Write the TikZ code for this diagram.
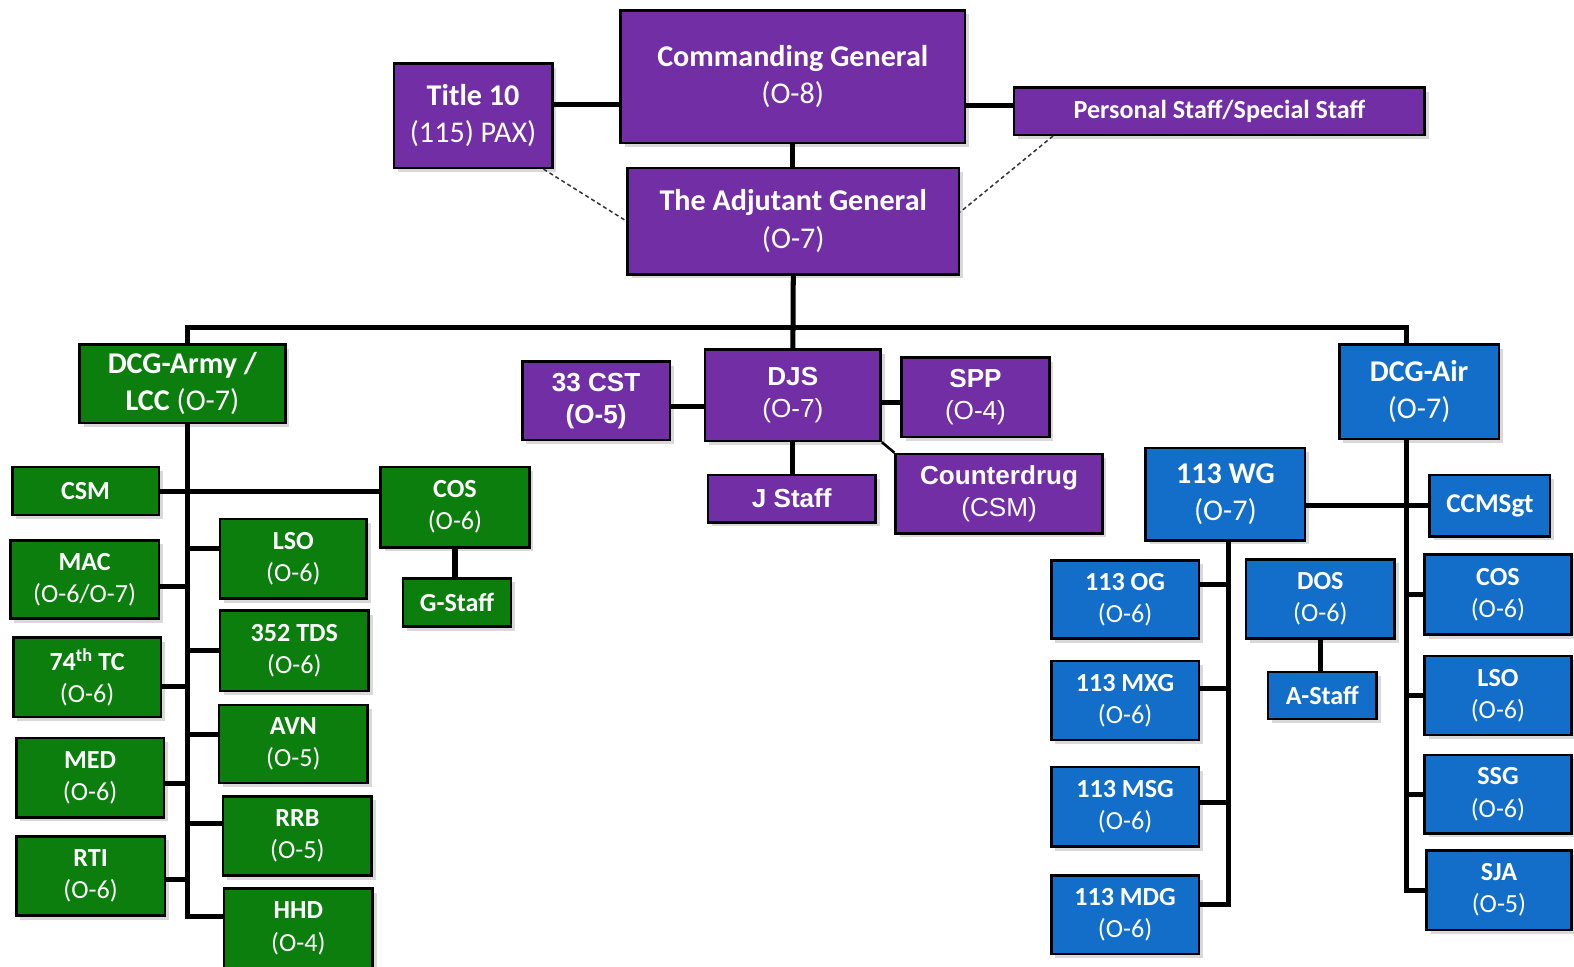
\documentclass[tikz,border=0pt]{standalone}
\usepackage{fontspec}
\setmainfont{Carlito}
\newfontfamily\arialfont{Liberation Sans}
\usetikzlibrary{shadows}
\definecolor{cgpurple}{RGB}{114,46,164}
\definecolor{armygreen}{RGB}{12,126,14}
\definecolor{airblue}{RGB}{18,110,200}
\tikzset{
  box/.style={draw=black, line width=2.5pt, text=white, align=center, inner sep=0pt, anchor=north west,
    drop shadow={shadow xshift=4pt, shadow yshift=-4pt, opacity=0.15, fill=black},
    font=\fontsize{26}{32}\selectfont},
  bigbox/.style={font=\fontsize{30}{37}\selectfont},
  arialbox/.style={font=\arialfont\fontsize{26}{32}\selectfont},
  pbox/.style={box, fill=cgpurple},
  gbox/.style={box, fill=armygreen},
  bbox/.style={box, fill=airblue},
  link/.style={line width=5pt, black},
  dotlink/.style={line width=1.5pt, dash pattern=on 4pt off 3pt, black!80}
}
\begin{document}
\begin{tikzpicture}[x=1pt,y=-1pt]
	\useasboundingbox (0,0) rectangle (1568,963);
	% command group
	\node [pbox, bigbox, minimum width=343, minimum height=132] (cg) at (617,9) {\textbf{Commanding General}\\(O-8)};
	\node [pbox, bigbox, minimum width=158, minimum height=104] (title) at (391,62) {\textbf{Title 10}\\(115) PAX)};
	\node [pbox, minimum width=409, minimum height=47] (ps) at (1009,86) {\textbf{Personal Staff/Special Staff}};
	\node [pbox, bigbox, minimum width=330, minimum height=106] (tag) at (624,166) {\textbf{The Adjutant General}\\(O-7)};
	\draw [link] ([yshift=11pt]title.east) -- ([yshift=11pt]title.east -| cg.west);
	\draw [link] ([yshift=6pt]ps.west -| cg.east) -- ([yshift=6pt]ps.west);
	\draw [link] (cg.south) -- (cg.south |- tag.north);
	\draw [dotlink] ([xshift=-10pt]title.south east) -- (tag.west);
	\draw [dotlink] ([xshift=40pt]ps.south west) -- ([yshift=9pt]tag.east);
	% joint staff
	\node [pbox, arialbox, minimum width=147, minimum height=78] (cst) at (519,359) {\textbf{33 CST}\\\textbf{(O-5)}};
	\node [pbox, arialbox, minimum width=175, minimum height=91] (djs) at (701,347) {\textbf{DJS}\\(O-7)};
	\node [pbox, arialbox, minimum width=147, minimum height=79] (spp) at (897,355) {\textbf{SPP}\\(O-4)};
	\node [pbox, arialbox, minimum width=167, minimum height=47] (jstaff) at (704,472) {\textbf{J Staff}};
	\node [pbox, arialbox, minimum width=206, minimum height=79] (cd) at (891,451) {\textbf{Counterdrug}\\(CSM)};
	\draw [link] ([yshift=-6pt]cst.east) -- ([yshift=-6pt]cst.east -| djs.west);
	\draw [link] ([yshift=-5pt]spp.west -| djs.east) -- ([yshift=-5pt]spp.west);
	\draw [link] (djs.south) -- (djs.south |- jstaff.north);
	\draw [line width=2.5pt] (djs.south east) -- (cd.north west);
	% bus
	\coordinate (bus) at (790,326);
	\coordinate (armyspine) at (187,0);
	\coordinate (airspine) at (1401,0);
	\coordinate (wgspine) at (1224,0);
	\node [gbox, bigbox, minimum width=205, minimum height=78] (army) at (78,342) {\textbf{DCG-Army /}\\\textbf{LCC} (O-7)};
	\node [bbox, bigbox, minimum width=159, minimum height=94] (air) at (1333,342) {\textbf{DCG-Air}\\(O-7)};
	\draw [link] (tag.south) -- (bus);
	\draw [link] (bus) -- (djs.north);
	\draw [link] (armyspine |- army.north) |- (bus) -| (airspine |- air.north);
	% army
	\node [gbox, minimum width=146, minimum height=48] (csm) at (11,464) {\textbf{CSM}};
	\node [gbox, minimum width=148, minimum height=80] (cos) at (378,464) {\textbf{COS}\\(O-6)};
	\node [gbox, minimum width=108, minimum height=48] (gstaff) at (400,575) {\textbf{G-Staff}};
	\node [gbox, minimum width=148, minimum height=78] (mac) at (9,537) {\textbf{MAC}\\(O-6/O-7)};
	\node [gbox, minimum width=147, minimum height=79] (tc) at (12,634) {\textbf{74\textsuperscript{th} TC}\\(O-6)};
	\node [gbox, minimum width=147, minimum height=79] (med) at (15,734) {\textbf{MED}\\(O-6)};
	\node [gbox, minimum width=148, minimum height=79] (rti) at (15,832) {\textbf{RTI}\\(O-6)};
	\node [gbox, minimum width=146, minimum height=79] (lso) at (218,516) {\textbf{LSO}\\(O-6)};
	\node [gbox, minimum width=148, minimum height=80] (tds) at (218,607) {\textbf{352 TDS}\\(O-6)};
	\node [gbox, minimum width=148, minimum height=78] (avn) at (217,701) {\textbf{AVN}\\(O-5)};
	\node [gbox, minimum width=148, minimum height=79] (rrb) at (221,792) {\textbf{RRB}\\(O-5)};
	\node [gbox, minimum width=148, minimum height=79] (hhd) at (222,884) {\textbf{HHD}\\(O-4)};
	\draw [link] (armyspine |- army.south) |- ([yshift=12pt]hhd.west);
	\draw [link] (csm.east) -- (csm.east -| cos.west);
	\draw [link] (cos.south) -- (cos.south |- gstaff.north);
	\draw [link] ([yshift=-7pt]mac.east) -- ([yshift=-7pt]mac.east -| armyspine);
	\draw [link] ([yshift=-9pt]tc.east) -- ([yshift=-9pt]tc.east -| armyspine);
	\draw [link] ([yshift=-6pt]med.east) -- ([yshift=-6pt]med.east -| armyspine);
	\draw [link] ([yshift=-3pt]rti.east) -- ([yshift=-3pt]rti.east -| armyspine);
	\draw [link] ([yshift=10pt]lso.west -| armyspine) -- ([yshift=10pt]lso.west);
	\draw [link] (tds.west -| armyspine) -- (tds.west);
	\draw [link] ([yshift=10pt]avn.west -| armyspine) -- ([yshift=10pt]avn.west);
	\draw [link] ([yshift=12pt]rrb.west -| armyspine) -- ([yshift=12pt]rrb.west);
	% air
	\node [bbox, bigbox, minimum width=159, minimum height=92] (wg) at (1140,445) {\textbf{113 WG}\\(O-7)};
	\node [bbox, font=\fontsize{27}{32}\selectfont, minimum width=120, minimum height=61] (ccm) at (1423,472) {\textbf{CCMSgt}};
	\node [bbox, minimum width=147, minimum height=78] (og) at (1046,557) {\textbf{113 OG}\\(O-6)};
	\node [bbox, minimum width=147, minimum height=79] (mxg) at (1046,657) {\textbf{113 MXG}\\(O-6)};
	\node [bbox, minimum width=147, minimum height=79] (msg) at (1046,763) {\textbf{113 MSG}\\(O-6)};
	\node [bbox, minimum width=147, minimum height=78] (mdg) at (1046,871) {\textbf{113 MDG}\\(O-6)};
	\node [bbox, minimum width=148, minimum height=79] (dos) at (1240,556) {\textbf{DOS}\\(O-6)};
	\node [bbox, minimum width=108, minimum height=47] (astaff) at (1262,668) {\textbf{A-Staff}};
	\node [bbox, minimum width=146, minimum height=80] (acos) at (1418,551) {\textbf{COS}\\(O-6)};
	\node [bbox, minimum width=146, minimum height=79] (also) at (1418,652) {\textbf{LSO}\\(O-6)};
	\node [bbox, minimum width=146, minimum height=78] (ssg) at (1418,751) {\textbf{SSG}\\(O-6)};
	\node [bbox, minimum width=144, minimum height=79] (sja) at (1420,846) {\textbf{SJA}\\(O-5)};
	\draw [link] (airspine |- air.south) |- (sja.west);
	\draw [link] (wg.east |- ccm.west) -- (ccm.west);
	\draw [link] (airspine |- acos.west) -- (acos.west);
	\draw [link] (airspine |- also.west) -- (also.west);
	\draw [link] (airspine |- ssg.west) -- (ssg.west);
	\draw [link] (wgspine |- wg.south) |- ([yshift=10pt]mdg.east);
	\draw [link] ([yshift=15pt]og.east) -- ([yshift=15pt]og.east -| wgspine);
	\draw [link] ([yshift=12pt]mxg.east) -- ([yshift=12pt]mxg.east -| wgspine);
	\draw [link] ([yshift=4pt]msg.east) -- ([yshift=4pt]msg.east -| wgspine);
	\draw [link] (dos.south) -- (dos.south |- astaff.north);
\end{tikzpicture}
\end{document}
